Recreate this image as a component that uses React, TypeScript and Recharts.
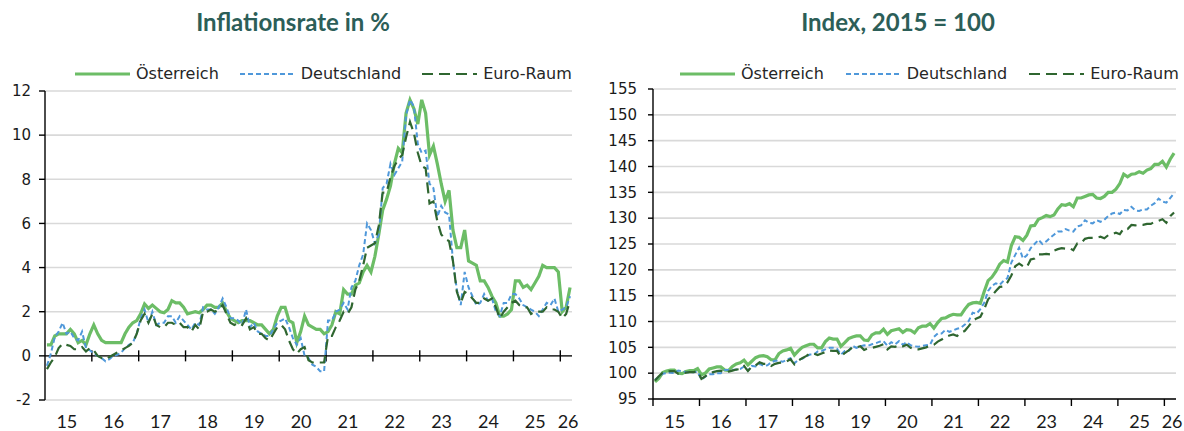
import React from 'react';
import { LineChart, Line, XAxis, YAxis, CartesianGrid, ReferenceLine } from 'recharts';

// ---------- data (monthly, Jan 2015 – Mar 2026) ----------
const yearLabels = ['15', '16', '17', '18', '19', '20', '21', '22', '23', '24', '25', '26'];

const atInflation = [
  0.5, 0.5, 0.9, 1.0, 1.0, 1.0, 1.2, 1.0, 0.6, 0.7, 0.5, 1.0,
  1.4, 1.0, 0.7, 0.6, 0.6, 0.6, 0.6, 0.6, 1.0, 1.3, 1.5, 1.6,
  1.9, 2.35, 2.15, 2.3, 2.15, 2.0, 1.95, 2.1, 2.5, 2.4, 2.4, 2.2,
  1.9, 1.95, 2.0, 1.95, 2.1, 2.3, 2.3, 2.2, 2.2, 2.4, 2.0, 1.7,
  1.6, 1.5, 1.6, 1.6, 1.6, 1.5, 1.4, 1.4, 1.2, 1.0, 1.2, 1.8,
  2.2, 2.2, 1.6, 1.5, 0.6, 1.1, 1.8, 1.4, 1.3, 1.2, 1.2, 1.0,
  1.1, 1.4, 2.0, 1.9, 3.0, 2.8, 2.8, 3.2, 3.3, 3.8, 4.1, 3.8,
  4.5, 5.5, 6.6, 7.1, 7.7, 8.7, 9.4, 9.2, 11.0, 11.6, 11.2, 10.5,
  11.6, 11.0, 9.1, 9.5, 8.7, 7.8, 7.0, 7.5, 5.7, 4.9, 4.9, 5.7,
  4.3, 4.2, 4.1, 3.4, 3.4, 3.1, 2.7, 2.4, 1.8, 1.8, 1.9, 2.1,
  3.4, 3.4, 3.1, 3.2, 3.0, 3.3, 3.6, 4.1, 4.0, 4.0, 4.0, 3.8,
  2.0, 2.2, 3.1,
];

const deInflation = [
  -0.45, 0.1, 0.85, 1.1, 1.5, 1.0, 1.1, 0.8, 0.7, 1.1, 0.35, 0.25,
  0.1, 0.0, -0.1, -0.25, -0.15, 0.0, 0.05, 0.15, 0.35, 0.5, 0.6, 1.0,
  1.7, 2.1, 1.5, 2.0, 1.4, 1.5, 1.5, 1.8, 1.8, 1.5, 1.8, 1.6,
  1.4, 1.2, 1.5, 1.4, 2.2, 2.1, 2.1, 1.9, 2.2, 2.6, 2.2, 1.7,
  1.7, 1.6, 1.4, 2.1, 1.3, 1.5, 1.1, 1.0, 0.9, 0.9, 1.2, 1.5,
  1.6, 1.7, 1.3, 0.8, 0.5, 0.8, 0.0, -0.1, -0.4, -0.5, -0.7, -0.7,
  1.6, 1.6, 2.0, 2.1, 2.4, 2.1, 3.1, 3.4, 4.1, 4.6, 6.0, 5.7,
  5.1, 5.5, 7.6, 7.8, 8.7, 8.2, 8.5, 8.8, 10.9, 11.6, 11.3, 9.6,
  9.2, 9.3, 7.8, 7.6, 6.3, 6.8, 6.5, 6.4, 4.3, 3.0, 2.3, 3.8,
  3.1, 2.7, 2.3, 2.4, 2.8, 2.5, 2.6, 2.0, 1.8, 2.4, 2.4, 2.8,
  2.8, 2.6, 2.3, 2.2, 2.1, 2.0, 1.8, 2.1, 2.4, 2.3, 2.6, 2.0,
  2.1, 2.2, 2.7,
];

const eaInflation = [
  -0.6, -0.3, -0.05, 0.35, 0.55, 0.5, 0.45, 0.3, 0.3, 0.4, 0.2, 0.35,
  0.25, 0.0, -0.1, -0.15, -0.05, 0.05, 0.15, 0.25, 0.35, 0.45, 0.6, 1.0,
  1.6, 1.9, 1.5, 1.9, 1.4, 1.3, 1.3, 1.5, 1.5, 1.4, 1.5, 1.3,
  1.3, 1.1, 1.4, 1.2, 2.0, 2.0, 2.1, 2.0, 2.1, 2.3, 1.9, 1.5,
  1.4, 1.5, 1.4, 1.7, 1.2, 1.3, 1.0, 1.0, 0.8, 0.7, 1.0, 1.3,
  1.4, 1.2, 0.7, 0.3, 0.1, 0.3, 0.4, -0.2, -0.3, -0.3, -0.3, -0.3,
  0.9, 0.9, 1.3, 1.6, 2.0, 1.9, 2.2, 3.0, 3.4, 4.1, 4.9, 5.0,
  5.1, 5.9, 7.4, 7.4, 8.1, 8.6, 8.9, 9.1, 9.9, 10.6, 10.1, 9.2,
  8.6, 8.5, 6.9, 7.0, 6.1, 5.5, 5.3, 5.2, 4.3, 2.9, 2.4, 2.9,
  2.8, 2.6, 2.4, 2.4, 2.6, 2.5, 2.6, 2.2, 1.7, 2.0, 2.2, 2.4,
  2.5, 2.3, 2.2, 2.2, 1.9, 2.0, 2.0, 2.0, 2.2, 2.1, 2.1, 2.0,
  1.7, 1.9, 2.5,
];

const atIndex = [
  98.3, 99.0, 100.1, 100.4, 100.6, 100.6, 100.0, 99.9, 100.3, 100.5, 100.5, 100.9,
  99.7, 100.0, 100.8, 101.0, 101.2, 101.2, 100.6, 100.5, 101.3, 101.8, 102.0, 102.5,
  101.6, 102.3, 103.0, 103.3, 103.4, 103.2, 102.6, 102.6, 103.8, 104.3, 104.5, 104.8,
  103.5, 104.3, 105.0, 105.3, 105.6, 105.6, 104.9, 104.9, 106.1, 106.8, 106.6, 106.6,
  105.2, 105.9, 106.7, 107.0, 107.2, 107.2, 106.4, 106.3, 107.4, 107.8, 107.8, 108.5,
  107.5, 108.2, 108.4, 108.6, 107.9, 108.4, 108.3, 107.8, 108.8, 109.1, 109.1, 109.6,
  108.7, 109.8, 110.6, 110.7, 111.1, 111.4, 111.3, 111.3, 112.4, 113.3, 113.6, 113.7,
  113.5, 115.8, 117.9, 118.6, 119.7, 121.1, 121.8, 121.5, 124.7, 126.4, 126.3, 125.7,
  126.7, 128.5, 128.6, 129.8, 130.1, 130.5, 130.3, 130.6, 131.8, 132.6, 132.5, 132.8,
  132.2, 133.9, 133.9, 134.2, 134.5, 134.6, 133.9, 133.8, 134.2, 135.0, 135.0, 135.6,
  136.7, 138.5, 138.0, 138.5, 138.6, 139.0, 138.7, 139.3, 139.6, 140.4, 140.4, 141.0,
  139.9, 141.4, 142.6,
];

const deIndex = [
  98.7, 99.3, 99.9, 100.0, 100.1, 100.0, 100.5, 100.4, 100.2, 100.2, 100.2, 100.3,
  98.8, 99.3, 99.8, 99.8, 100.0, 100.0, 100.6, 100.6, 100.6, 100.7, 100.8, 101.3,
  100.5, 101.4, 101.3, 101.8, 101.4, 101.5, 102.1, 102.4, 102.4, 102.2, 102.6, 102.9,
  101.9, 102.6, 102.8, 103.2, 103.6, 103.6, 104.2, 104.3, 104.6, 104.9, 104.9, 104.7,
  103.6, 104.3, 104.3, 105.3, 104.9, 105.2, 105.4, 105.3, 105.6, 105.8, 106.1, 106.2,
  105.3, 106.0, 105.6, 106.2, 105.5, 106.0, 105.4, 105.2, 105.1, 105.3, 105.4, 105.5,
  107.0, 107.7, 107.7, 108.4, 108.0, 108.3, 108.6, 108.8, 109.4, 110.1, 111.7, 111.5,
  112.4, 113.6, 115.9, 116.9, 117.4, 117.1, 117.9, 118.4, 121.4, 122.9, 124.3, 122.2,
  122.8, 124.2, 125.0, 125.8, 125.0, 125.5, 126.2, 126.8, 127.4, 127.4, 127.9, 127.6,
  127.4, 128.4, 128.6, 129.6, 129.1, 129.0, 129.6, 129.3, 129.7, 130.4, 130.9, 131.1,
  130.8, 131.6, 131.5, 132.2, 131.5, 131.4, 131.7, 131.7, 132.4, 132.9, 133.8, 133.2,
  133.0, 133.9, 134.8,
];

const eaIndex = [
  98.6, 99.4, 100.1, 100.3, 100.4, 100.4, 99.9, 100.0, 100.1, 100.2, 100.2, 100.4,
  98.9, 99.4, 100.0, 100.2, 100.4, 100.5, 100.1, 100.3, 100.5, 100.7, 100.8, 101.4,
  100.4, 101.3, 101.5, 102.1, 101.8, 101.8, 101.4, 101.8, 102.0, 102.1, 102.3, 102.7,
  101.7, 102.4, 102.9, 103.3, 103.8, 103.8, 103.5, 103.8, 104.1, 104.4, 104.3, 104.3,
  103.2, 103.9, 104.4, 105.0, 105.0, 105.2, 104.5, 104.8, 104.9, 105.1, 105.3, 105.6,
  104.6, 105.2, 105.1, 105.4, 105.2, 105.5, 104.9, 104.6, 104.6, 104.8, 105.0, 105.3,
  105.5, 106.1, 106.5, 107.0, 107.3, 107.5, 107.2, 107.8, 108.2, 109.1, 110.1, 110.6,
  110.9, 112.4, 114.3, 115.0, 115.9, 116.7, 116.8, 117.6, 118.9, 120.7, 121.2, 120.7,
  120.5, 122.0, 122.2, 123.0, 123.0, 123.1, 123.0, 123.7, 124.0, 124.2, 124.1, 124.2,
  123.8, 125.1, 125.2, 126.0, 126.2, 126.2, 126.2, 126.4, 126.1, 126.7, 126.9, 127.2,
  126.9, 128.0, 127.9, 128.7, 128.6, 128.7, 128.7, 128.9, 128.9, 129.3, 129.5, 129.8,
  129.1, 130.4, 131.1,
];

const inflationTicks = [-2, 0, 2, 4, 6, 8, 10, 12];
const indexTicks = [95, 100, 105, 110, 115, 120, 125, 130, 135, 140, 145, 150, 155];

// ---------- styling ----------
const TITLE_COLOR = '#2c5e58';
const AT_COLOR = '#6cbd66';
const DE_COLOR = '#4f98da';
const EA_COLOR = '#2f6630';
const GRID_COLOR = '#d9d9d9';
const TEXT_COLOR = '#1a1a1a';

const series = [
  { key: 'at', name: 'Österreich', color: AT_COLOR, width: 3.2, dash: undefined as string | undefined },
  { key: 'de', name: 'Deutschland', color: DE_COLOR, width: 2, dash: '5 3' },
  { key: 'ea', name: 'Euro-Raum', color: EA_COLOR, width: 2.2, dash: '11 6' },
];

const monthCount = atInflation.length;
const yearStarts = yearLabels.map((_, k) => k * 12);
const labelPos = yearLabels.map((_, k) => (k === yearLabels.length - 1 ? 134 : k * 12 + 5.6));
const yearFormatter = (v: number) => {
  const k = labelPos.indexOf(v);
  return k >= 0 ? yearLabels[k] : '';
};

const inflationRows = atInflation.map((v, i) => ({ m: i + 0.5, at: v, de: deInflation[i], ea: eaInflation[i] }));
const indexRows = atIndex.map((v, i) => ({ m: i + 0.5, at: v, de: deIndex[i], ea: eaIndex[i] }));

const yTickStyle = { fontSize: 15, fontFamily: "'DejaVu Sans', sans-serif", fill: TEXT_COLOR };
const xTickStyle = { fontSize: 18, fontFamily: "Lato, sans-serif", fill: TEXT_COLOR };

function Title({ text, center }: { text: string; center: number }) {
  return (
    <div
      style={{
        position: 'absolute',
        left: center - 200,
        width: 400,
        top: 10,
        textAlign: 'center',
        fontFamily: 'Lato, sans-serif',
        fontWeight: 700,
        fontSize: 24,
        lineHeight: '24px',
        color: TITLE_COLOR,
        whiteSpace: 'nowrap',
      }}
    >
      {text}
    </div>
  );
}

function LegendRow({ left, gap }: { left: number; gap: number }) {
  return (
    <div
      style={{
        position: 'absolute',
        left,
        top: 64,
        display: 'flex',
        alignItems: 'center',
        fontFamily: "'DejaVu Sans', sans-serif",
        fontSize: 16,
        lineHeight: '20px',
        color: '#262626',
        whiteSpace: 'nowrap',
      }}
    >
      {series.map((s, k) => (
        <div key={s.key} style={{ display: 'flex', alignItems: 'center', marginLeft: k ? gap : 0 }}>
          <svg width={55} height={8} style={{ display: 'block' }}>
            <line x1={0} y1={4} x2={55} y2={4} stroke={s.color} strokeWidth={s.width} strokeDasharray={s.dash} />
          </svg>
          <span style={{ marginLeft: 6 }}>{s.name}</span>
        </div>
      ))}
    </div>
  );
}

function renderLines() {
  return series.map((s) => (
    <Line
      key={s.key}
      type="linear"
      dataKey={s.key}
      name={s.name}
      stroke={s.color}
      strokeWidth={s.width}
      strokeDasharray={s.dash}
      dot={false}
      activeDot={false}
      isAnimationActive={false}
    />
  ));
}

export default function App() {
  return (
    <div style={{ position: 'absolute', left: 0, top: 0, width: 1184, height: 431, background: '#fff', overflow: 'hidden' }}>
      <Title text="Inflationsrate in %" center={293} />
      <Title text="Index, 2015 = 100" center={898} />
      <LegendRow left={75} gap={21} />
      <LegendRow left={680} gap={22} />

      <div style={{ position: 'absolute', left: 0, top: 0 }}>
        <LineChart width={592} height={431} data={inflationRows} margin={{ top: 91, right: 20, bottom: 0, left: 0 }}>
          <CartesianGrid vertical={false} stroke={GRID_COLOR} strokeWidth={1.6} />
          <XAxis
            dataKey="m"
            type="number"
            domain={[0, monthCount]}
            ticks={labelPos}
            interval={0}
            tickFormatter={yearFormatter}
            axisLine={false}
            tickLine={false}
            tickSize={6}
            tickMargin={9}
            height={31}
            tick={xTickStyle}
            allowDataOverflow
          />
          <YAxis
            type="number"
            domain={[-2, 12]}
            ticks={inflationTicks}
            interval={0}
            width={45}
            axisLine={{ stroke: '#000', strokeWidth: 1.4 }}
            tickLine={{ stroke: '#000', strokeWidth: 1.4 }}
            tickSize={6}
            tickMargin={8}
            tick={yTickStyle}
            allowDataOverflow
          />
          <ReferenceLine y={0} stroke="#000" strokeWidth={1.4} />
          {yearStarts.slice(1).map((x) => (
            <ReferenceLine
              key={`lt${x}`}
              segment={[{ x, y: -0.25 }, { x, y: 0.25 }]}
              stroke="#000"
              strokeWidth={1.4}
            />
          ))}
          {renderLines()}
        </LineChart>
      </div>

      <div style={{ position: 'absolute', left: 592, top: 0 }}>
        <LineChart width={592} height={431} data={indexRows} margin={{ top: 89, right: 8, bottom: 0, left: 0 }}>
          <CartesianGrid vertical={false} stroke={GRID_COLOR} strokeWidth={1.6} />
          <XAxis
            dataKey="m"
            type="number"
            domain={[0, monthCount]}
            ticks={labelPos}
            interval={0}
            tickFormatter={yearFormatter}
            axisLine={{ stroke: '#000', strokeWidth: 1.4 }}
            tickLine={false}
            tickSize={7}
            tickMargin={9}
            height={32}
            tick={xTickStyle}
            allowDataOverflow
          />
          <YAxis
            type="number"
            domain={[95, 155]}
            ticks={indexTicks}
            interval={0}
            width={61}
            axisLine={{ stroke: '#000', strokeWidth: 1.4 }}
            tickLine={{ stroke: '#000', strokeWidth: 1.4 }}
            tickSize={5}
            tickMargin={11}
            tick={yTickStyle}
            allowDataOverflow
          />
          {yearStarts.map((x) => (
            <ReferenceLine
              key={`rt${x}`}
              segment={[{ x, y: 95 }, { x, y: 93.65 }]}
              ifOverflow="visible"
              stroke="#000"
              strokeWidth={1.4}
            />
          ))}
          {renderLines()}
        </LineChart>
      </div>
    </div>
  );
}
